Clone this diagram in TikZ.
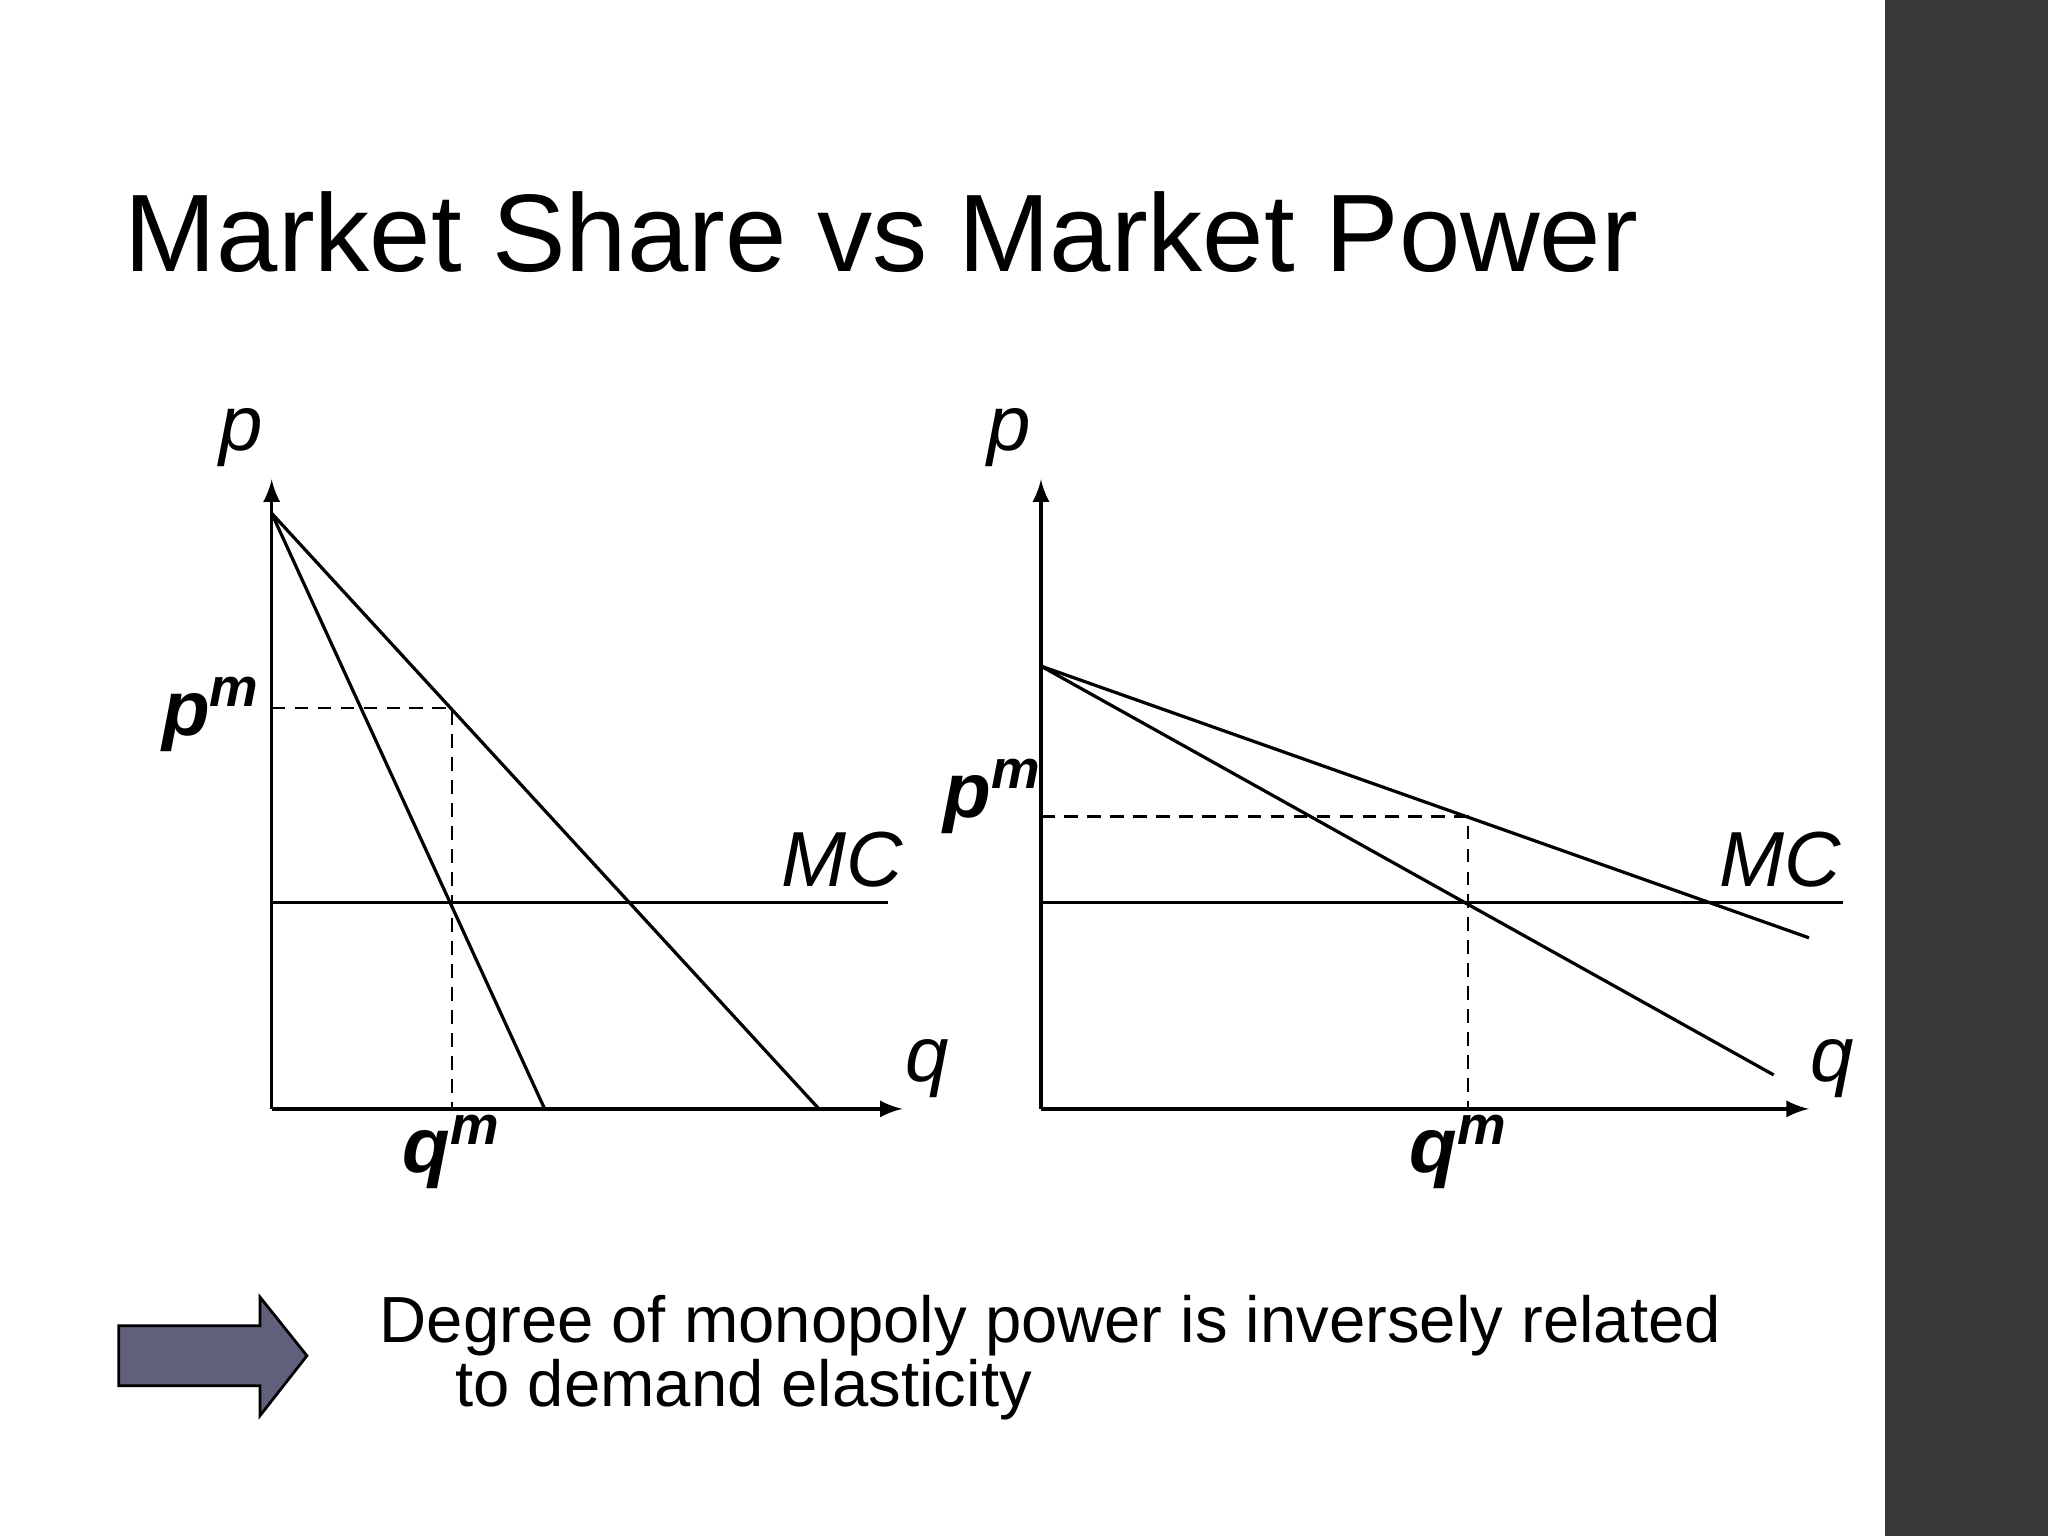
\documentclass[tikz,border=0pt]{standalone}
\usepackage{fontspec}
\setmainfont{Liberation Sans}
\usetikzlibrary{shapes.arrows}
\begin{document}
\begin{tikzpicture}[x=0.01cm,y=-0.01cm,
  ln/.style={line width=0.7pt},
  dsh/.style={line width=0.6pt,dash pattern=on 3pt off 2pt},
  ax/.style={line width=0.7pt,-latex},
  lab/.style={inner sep=0pt,font=\fontsize{17}{20}\selectfont\itshape},
  blab/.style={inner sep=0pt,font=\fontsize{17}{20}\selectfont\bfseries\itshape}]
\useasboundingbox (0,0) rectangle (1568,1176);
\fill[white] (0,0) rectangle (1568,1176);
\fill[black!78] (1443,0) rectangle (1568,1176);
\node[anchor=base west,inner sep=0pt,font=\fontsize{24}{28}\selectfont] (title) at (95,208) {Market Share vs Market Power};
% left chart
\coordinate (lo) at (208,849);
\coordinate (ly) at (208,367);
\coordinate (lx) at (691,849);
\draw[ax] (lo) -- (ly);
\draw[ax] (lo) -- (lx);
\coordinate (la) at (208,393);
\coordinate (lb) at (417,849);
\coordinate (lc) at (627,849);
\draw[ln] (la) -- (lb);
\draw[ln] (la) -- (lc);
\coordinate (lm1) at (208,691); \coordinate (lm2) at (680,691);
\draw[ln] (lm1) -- (lm2);
\coordinate (lp) at (208,542); \coordinate (lpq) at (346,542); \coordinate (lq) at (346,849);
\draw[dsh] (lp) -- (lpq) -- (lq);
\node[lab] (lpl) at (185,335) {p};
\node[lab] (lql) at (710,818) {q};
\node[lab] (lmc) at (645,658) {MC};
\node[blab] (lpm) at (162,547) {p\textsuperscript{m}};
\node[blab] (lqm) at (346,882) {q\textsuperscript{m}};
% right chart
\coordinate (ro) at (797,849);
\coordinate (ry) at (797,367);
\coordinate (rx) at (1385,849);
\draw[ax] (ro) -- (ry);
\draw[ax] (ro) -- (rx);
\coordinate (ra) at (797,510);
\coordinate (rb) at (1385,718);
\coordinate (rc) at (1358,823);
\draw[ln] (ra) -- (rb);
\draw[ln] (ra) -- (rc);
\coordinate (rm1) at (797,691); \coordinate (rm2) at (1411,691);
\draw[ln] (rm1) -- (rm2);
\coordinate (rp) at (797,625); \coordinate (rpq) at (1124,625); \coordinate (rq) at (1124,849);
\draw[dsh] (rp) -- (rpq) -- (rq);
\node[lab] (rpl) at (773,335) {p};
\node[lab] (rql) at (1403,818) {q};
\node[lab] (rmc) at (1363,658) {MC};
\node[blab] (rpm) at (760,610) {p\textsuperscript{m}};
\node[blab] (rqm) at (1117,882) {q\textsuperscript{m}};
% arrow
\draw[fill=black!58!white!90!blue,line width=0.6pt] (91,1015) -- (199,1015) -- (199,993) -- (235,1038) -- (199,1084) -- (199,1061) -- (91,1061) -- cycle;
\node[anchor=base west,inner sep=0pt,font=\fontsize{14.2}{17}\selectfont] (t1) at (290,1028) {Degree of monopoly power is inversely related};
\node[anchor=base west,inner sep=0pt,font=\fontsize{14.2}{17}\selectfont] (t2) at (348,1077) {to demand elasticity};
\end{tikzpicture}
\end{document}
